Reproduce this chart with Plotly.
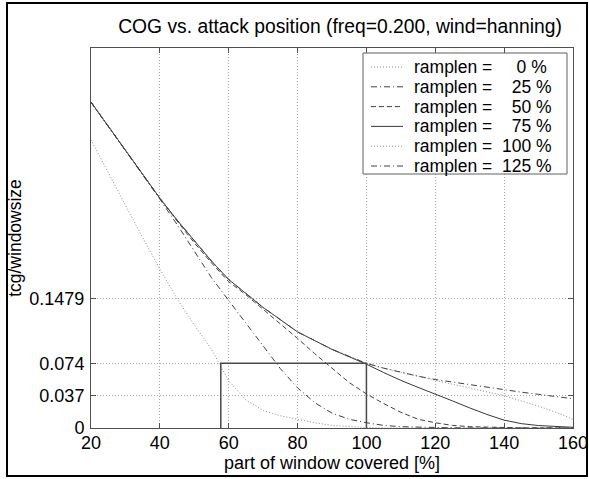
import plotly.graph_objects as go

# ---------------- data ----------------
x_pos = [20, 25, 30, 35, 40, 45, 50, 55, 60, 65, 70, 75, 80, 85, 90, 95, 100,
         105, 110, 115, 120, 125, 130, 135, 140, 145, 150, 155, 160]

ramp_0 = [0.330, 0.292, 0.255, 0.218, 0.182, 0.148, 0.118, 0.090, 0.054, 0.032,
          0.020, 0.014, 0.010, 0.006, 0.003, 0.0015, 0.0005, 0, 0, 0, 0, 0, 0, 0,
          0, 0, 0, 0, 0]
ramp_25 = [0.373, 0.3455, 0.318, 0.290, 0.262, 0.233, 0.202, 0.172, 0.146, 0.120,
           0.094, 0.068, 0.046, 0.029, 0.017, 0.010, 0.006, 0.003, 0.0015, 0.0008,
           0.0004, 0.0002, 0.0001, 0, 0, 0, 0, 0, 0]
ramp_50 = [0.373, 0.3455, 0.318, 0.290, 0.263, 0.237, 0.212, 0.189, 0.1675, 0.1525,
           0.136, 0.119, 0.1025, 0.085, 0.068, 0.052, 0.039, 0.028, 0.018, 0.010,
           0.006, 0.003, 0.0015, 0.0008, 0.0004, 0.0002, 0.0001, 0, 0]
ramp_75 = [0.373, 0.3455, 0.318, 0.290, 0.263, 0.238, 0.214, 0.191, 0.170, 0.154,
           0.138, 0.124, 0.110, 0.100, 0.090, 0.0815, 0.073, 0.0635, 0.0545, 0.0465,
           0.039, 0.031, 0.023, 0.0155, 0.009, 0.005, 0.0028, 0.0015, 0.0008]
ramp_100 = [0.373, 0.3455, 0.318, 0.290, 0.263, 0.238, 0.214, 0.191, 0.170, 0.154,
            0.138, 0.124, 0.110, 0.100, 0.090, 0.082, 0.074, 0.0685, 0.0635, 0.0593,
            0.0545, 0.050, 0.046, 0.0415, 0.037, 0.031, 0.025, 0.018, 0.010]
ramp_125 = [0.373, 0.3455, 0.318, 0.290, 0.263, 0.238, 0.214, 0.191, 0.170, 0.154,
            0.138, 0.124, 0.110, 0.100, 0.090, 0.082, 0.074, 0.0685, 0.0635, 0.0593,
            0.0555, 0.0525, 0.0495, 0.0465, 0.0437, 0.041, 0.0385, 0.036, 0.0335]

ramp_labels = ["ramplen =\u00a0\u00a0\u00a0\u00a0\u00a00 %",
               "ramplen =\u00a0\u00a0\u00a0\u00a025 %",
               "ramplen =\u00a0\u00a0\u00a0\u00a050 %",
               "ramplen =\u00a0\u00a0\u00a0\u00a075 %",
               "ramplen =\u00a0\u00a0100 %",
               "ramplen =\u00a0\u00a0125 %"]

marker_box_x = [57.7, 57.7, 100, 100]
marker_box_y = [0, 0.074, 0.074, 0]

x_ticks = [20, 40, 60, 80, 100, 120, 140, 160]
y_ticks = [0, 0.037, 0.074, 0.1479]
y_tick_text = ["0", "0.037", "0.074", "0.1479"]

# ---------------- styling ----------------
series = [ramp_0, ramp_25, ramp_50, ramp_75, ramp_100, ramp_125]
dashes = ["1px,2px", "6px,3px,1px,3px", "5px,3px", "solid", "1px,2px", "6px,3px,1px,3px"]
colors = ["#8a8a8a", "#404040", "#404040", "#383838", "#8a8a8a", "#404040"]

FONT = "Liberation Sans, Arial, Helvetica, sans-serif"
W, H = 589, 479
L, R, T, B = 91, 16, 48, 51
PW, PH = W - L - R, H - T - B


def px2x(px):
    return (px - L) / PW


def py2y(py):
    return (H - B - py) / PH


fig = go.Figure()
for vals, dash, col, name in zip(series, dashes, colors, ramp_labels):
    fig.add_trace(go.Scatter(x=x_pos, y=vals, mode="lines", name=name,
                             line=dict(color=col, width=1, dash=dash),
                             showlegend=False, hoverinfo="skip"))

fig.add_trace(go.Scatter(x=marker_box_x, y=marker_box_y, mode="lines",
                         line=dict(color="#4a4a4a", width=1.5),
                         showlegend=False, hoverinfo="skip"))

shapes = []
annotations = []
# outer figure frame
shapes.append(dict(type="rect", xref="paper", yref="paper",
                   x0=px2x(7), x1=px2x(587), y0=py2y(476), y1=py2y(3),
                   line=dict(color="black", width=2), fillcolor="rgba(0,0,0,0)",
                   layer="below"))
# legend box
lg_left, lg_right, lg_top, lg_bot = 363, 567, 53, 174
shapes.append(dict(type="rect", xref="paper", yref="paper",
                   x0=px2x(lg_left), x1=px2x(lg_right), y0=py2y(lg_bot), y1=py2y(lg_top),
                   line=dict(color="#606060", width=1), fillcolor="white", layer="above"))
row_h = 19.8
for i, (name, dash, col) in enumerate(zip(ramp_labels, dashes, colors)):
    yc = lg_top + 14 + row_h * i
    shapes.append(dict(type="line", xref="paper", yref="paper",
                       x0=px2x(371), x1=px2x(403), y0=py2y(yc), y1=py2y(yc),
                       line=dict(color=col, width=1, dash=dash), layer="above"))
    annotations.append(dict(xref="paper", yref="paper", x=px2x(412), y=py2y(yc),
                            xanchor="left", yanchor="middle", showarrow=False,
                            text=name, font=dict(family=FONT, size=17.5, color="black")))

fig.update_layout(
    width=W, height=H,
    margin=dict(l=L, r=R, t=T, b=B, pad=0, autoexpand=False),
    paper_bgcolor="white", plot_bgcolor="white",
    showlegend=False,
    title=dict(text="COG vs. attack position (freq=0.200, wind=hanning)",
               x=px2x(340), xref="paper", xanchor="center",
               y=1 - 26 / H, yref="container", yanchor="middle", automargin=False,
               font=dict(family=FONT, size=19.3, color="black")),
    shapes=shapes, annotations=annotations,
    font=dict(family=FONT, color="black"),
)

fig.update_xaxes(range=[20, 160], tickvals=x_ticks, ticks="inside", ticklen=5,
                 tickcolor="#505050", showline=True, linecolor="#505050", linewidth=1,
                 mirror="ticks", showgrid=True, gridcolor="#a8a8a8", griddash="1px,2px",
                 gridwidth=1, zeroline=False, ticklabelstandoff=-2, automargin=False,
                 tickfont=dict(family=FONT, size=18, color="black"),
                 title=dict(text="part of window covered [%]", standoff=4,
                            font=dict(family=FONT, size=18, color="black")))
fig.update_yaxes(range=[0, 0.435], tickvals=y_ticks, ticktext=y_tick_text, ticks="inside",
                 ticklen=5, tickcolor="#505050", showline=True, linecolor="#505050",
                 linewidth=1, mirror="ticks", showgrid=True, gridcolor="#a8a8a8",
                 griddash="1px,2px", gridwidth=1, zeroline=False, ticklabelstandoff=2,
                 automargin=False,
                 tickfont=dict(family=FONT, size=18, color="black"),
                 title=dict(text="tcg/windowsize", standoff=3,
                            font=dict(family=FONT, size=17.5, color="black")))

fig.write_html("out.html",
               config={"displayModeBar": False},
               post_script="document.body.style.margin='0';"
                           "document.body.style.overflow='hidden';")
